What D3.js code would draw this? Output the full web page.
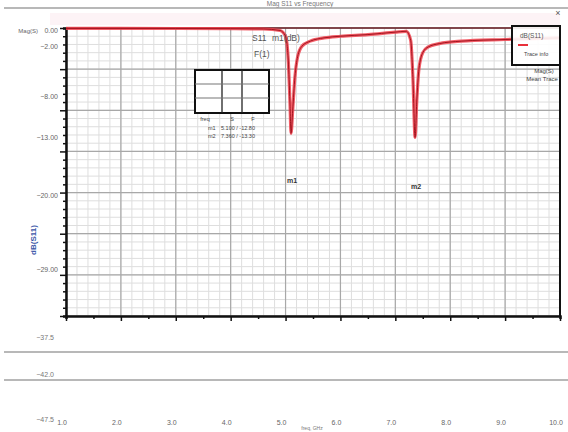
<!DOCTYPE html>
<html>
<head>
<meta charset="utf-8">
<script src="https://cdn.jsdelivr.net/npm/d3@7"></script>
<style>
  html, body { margin: 0; padding: 0; background: #fff; }
  svg { display: block; font-family: "Liberation Sans", Arial, sans-serif; }
</style>
</head>
<body>
<svg id="chart" width="568" height="432"></svg>
<script>
// Return loss sweep, dB(S(1,1)) against frequency in GHz
const freqGHz = [1.0, 2.0, 3.0, 4.0, 4.6, 4.9, 5.0, 5.05, 5.08, 5.10, 5.13, 5.17, 5.22, 5.30, 5.45, 5.70, 6.0, 6.5, 7.0, 7.2, 7.28, 7.32, 7.36, 7.39, 7.43, 7.50, 7.60, 7.80, 8.2, 9.0, 10.0];
const s11dB   = [-0.05, -0.05, -0.06, -0.08, -0.12, -0.3, -1.0, -4.0, -9.0, -12.8, -10.0, -6.0, -3.5, -2.2, -1.6, -1.2, -1.0, -0.8, -0.5, -0.4, -1.5, -6.0, -13.3, -9.0, -5.0, -3.0, -2.3, -1.9, -1.6, -1.4, -1.2];

// Markers placed on the two resonances
const markerNames = ["m1", "m2"];
const markerFreq  = [5.10, 7.36];
const markerDB    = [-12.8, -13.3];

// Axis ticks
const xTicks = [1, 2, 3, 4, 5, 6, 7, 8, 9, 10];
const yMajor = [0, -5, -10, -15, -20, -25, -30, -35];
const yLabelValues = [0, -2, -8, -13, -20, -29];
const lowerLabelValues = [-37.5, -42, -47.5];

// Marker readout table
const tableHead = ["freq", "S", "F"];
const tableRows = [["m1", "5.100 / -12.80"], ["m2", "7.360 / -13.30"]];

const svg = d3.select("#chart");
const x = d3.scaleLinear().domain([1, 10]).range([66, 560]);
const y = d3.scaleLinear().domain([0, -35]).range([28, 316]);

// Window header strip
svg.append("text").attr("x", 300).attr("y", 6).attr("text-anchor", "middle")
  .attr("font-size", 6.5).attr("fill", "#777").text("Mag S11 vs Frequency");
svg.append("line").attr("x1", 4).attr("x2", 568).attr("y1", 8).attr("y2", 8)
  .attr("stroke", "#a0a0a0").attr("stroke-width", 1.5);
svg.append("rect").attr("x", 50).attr("y", 13).attr("width", 510).attr("height", 12)
  .attr("fill", "#fdf3f6");
svg.append("text").attr("x", 558).attr("y", 16).attr("text-anchor", "middle")
  .attr("font-size", 9).attr("fill", "#555").text("×");

// Grid: minor every 0.2 GHz / 1 dB, major every 1 GHz / 5 dB
const grid = svg.append("g");
grid.selectAll(".vminor").data(d3.range(1, 10.001, 0.2)).join("line")
  .attr("x1", d => x(d)).attr("x2", d => x(d)).attr("y1", y(0)).attr("y2", y(-35))
  .attr("stroke", "#dedede").attr("stroke-width", 1);
grid.selectAll(".hminor").data(d3.range(0, -35.001, -1)).join("line")
  .attr("x1", x(1)).attr("x2", x(10)).attr("y1", d => y(d)).attr("y2", d => y(d))
  .attr("stroke", "#dedede").attr("stroke-width", 1);
grid.selectAll(".vmajor").data(xTicks).join("line")
  .attr("x1", d => x(d)).attr("x2", d => x(d)).attr("y1", y(0)).attr("y2", y(-35))
  .attr("stroke", "#a8a8a8").attr("stroke-width", 1.2);
grid.selectAll(".hmajor").data(yMajor).join("line")
  .attr("x1", x(1)).attr("x2", x(10)).attr("y1", d => y(d)).attr("y2", d => y(d))
  .attr("stroke", "#a8a8a8").attr("stroke-width", 1.2);

// Frame
svg.append("line").attr("x1", x(1)).attr("x2", x(10)).attr("y1", y(0)).attr("y2", y(0))
  .attr("stroke", "#6a1a22").attr("stroke-width", 1.5);
svg.append("line").attr("x1", x(10)).attr("x2", x(10)).attr("y1", 25).attr("y2", y(-35) + 1)
  .attr("stroke", "#111").attr("stroke-width", 2);

// Left axis with minor ticks
const yAxis = svg.append("g").attr("transform", `translate(${x(1)},0)`)
  .call(d3.axisLeft(y).tickValues(d3.range(0, -35.001, -1)).tickSize(3).tickFormat(""));
yAxis.selectAll(".tick line").attr("stroke", "#111").attr("stroke-width", 1.5)
  .attr("x2", d => (d % 5 === 0 ? -6 : -3));
yAxis.select(".domain").attr("stroke", "#111").attr("stroke-width", 2.5);

// Bottom axis with minor ticks
const xAxis = svg.append("g").attr("transform", `translate(0,${y(-35)})`)
  .call(d3.axisBottom(x).tickValues(d3.range(1, 10.001, 0.5)).tickSize(3).tickFormat(""));
xAxis.selectAll(".tick line").attr("stroke", "#111").attr("stroke-width", 1.5)
  .attr("y2", d => (Math.abs(d - Math.round(d)) < 1e-6 ? 5 : 3));
xAxis.select(".domain").attr("stroke", "#111").attr("stroke-width", 2.5);

// Y tick labels
svg.selectAll(".ylab").data(yLabelValues).join("text")
  .attr("x", 58).attr("y", d => y(d) + 5).attr("text-anchor", "end")
  .attr("font-size", 7).attr("fill", "#666")
  .text(d => d3.format(".2f")(d));
svg.append("text").attr("x", 38).attr("y", y(0) + 5).attr("text-anchor", "end")
  .attr("font-size", 6).attr("fill", "#666").text("Mag(S)");

// Lower panel separators and labels
svg.selectAll(".sep").data([352, 380]).join("line")
  .attr("x1", 4).attr("x2", 568).attr("y1", d => d).attr("y2", d => d)
  .attr("stroke", "#a0a0a0").attr("stroke-width", 1.5);
svg.selectAll(".lowlab").data(lowerLabelValues).join("text")
  .attr("x", 54).attr("y", d => y(d) + 3).attr("text-anchor", "end")
  .attr("font-size", 7).attr("fill", "#777")
  .text(d => d3.format(".1f")(d));

// X tick labels, set well below the axis
svg.selectAll(".xlab").data(xTicks).join("text")
  .attr("x", d => x(d) - 4).attr("y", 425).attr("text-anchor", "middle")
  .attr("font-size", 7).attr("fill", "#666")
  .text(d => d3.format(".1f")(d));
svg.append("text").attr("x", 312).attr("y", 430).attr("text-anchor", "middle")
  .attr("font-size", 5).attr("fill", "#777").text("freq, GHz");

// Y axis title
svg.append("text").attr("transform", "translate(36,240) rotate(-90)")
  .attr("text-anchor", "middle").attr("font-size", 8).attr("font-weight", "bold")
  .attr("fill", "#3a55a8").text("dB(S11)");

// Trace: bright halo with darker core
const line = d3.line().x((d, i) => x(freqGHz[i])).y(d => y(d)).curve(d3.curveMonotoneX);
svg.append("path").datum(s11dB).attr("d", line)
  .attr("fill", "none").attr("stroke", "#f0424e").attr("stroke-width", 3.2)
  .attr("stroke-opacity", 0.85).attr("stroke-linejoin", "round");
svg.append("path").datum(s11dB).attr("d", line)
  .attr("fill", "none").attr("stroke", "#a3141f").attr("stroke-width", 1)
  .attr("stroke-linejoin", "round");

// Marker labels below each dip
svg.selectAll(".mk").data(markerNames).join("text")
  .attr("x", (d, i) => x(markerFreq[i]) + 1)
  .attr("y", (d, i) => y(markerDB[i]) + 50 + i * 2)
  .attr("text-anchor", "middle").attr("font-size", 7).attr("font-weight", "bold")
  .attr("fill", "#333").text(d => d);

// Marker readout near the first dip
svg.append("text").attr("x", 252).attr("y", 41).attr("font-size", 8.5).attr("fill", "#555").text("S11");
svg.append("text").attr("x", 272).attr("y", 41).attr("font-size", 8.5).attr("fill", "#555").text("m1(dB)");
svg.append("text").attr("x", 254).attr("y", 57).attr("font-size", 8.5).attr("fill", "#555").text("F(1)");

// Readout table
const tb = svg.append("g");
tb.append("rect").attr("x", 195).attr("y", 70).attr("width", 74).attr("height", 43)
  .attr("fill", "#fff").attr("stroke", "#111").attr("stroke-width", 2);
tb.selectAll(".tv").data([222, 242]).join("line")
  .attr("x1", d => d).attr("x2", d => d).attr("y1", 70).attr("y2", 113)
  .attr("stroke", "#222").attr("stroke-width", 1.3);
tb.selectAll(".th").data([84, 98]).join("line")
  .attr("x1", 195).attr("x2", 269).attr("y1", d => d).attr("y2", d => d)
  .attr("stroke", "#777").attr("stroke-width", 1.2);
tb.selectAll(".hd").data(tableHead).join("text")
  .attr("x", (d, i) => [205, 232, 253][i]).attr("y", 121).attr("text-anchor", "middle")
  .attr("font-size", 5.5).attr("fill", "#444").text(d => d);
tb.selectAll(".r1").data(tableRows).join("text")
  .attr("x", 208).attr("y", (d, i) => 130 + i * 8).attr("font-size", 5.5).attr("fill", "#444")
  .text(d => d[0]);
tb.selectAll(".r2").data(tableRows).join("text")
  .attr("x", 221).attr("y", (d, i) => 130 + i * 8).attr("font-size", 5.5).attr("fill", "#444")
  .text(d => d[1]);

// Legend box
const lg = svg.append("g");
lg.append("rect").attr("x", 512).attr("y", 26).attr("width", 48).attr("height", 39)
  .attr("fill", "#fff").attr("fill-opacity", 0.9).attr("stroke", "#111").attr("stroke-width", 2);
lg.append("text").attr("x", 520).attr("y", 38).attr("font-size", 6.5).attr("fill", "#555").text("dB(S11)");
lg.append("line").attr("x1", 518).attr("x2", 528).attr("y1", 45).attr("y2", 45)
  .attr("stroke", "#e8303a").attr("stroke-width", 2);
lg.append("text").attr("x", 524).attr("y", 56).attr("font-size", 5.5).attr("fill", "#444").text("Trace info");
svg.append("text").attr("x", 544).attr("y", 73).attr("text-anchor", "middle")
  .attr("font-size", 6).attr("fill", "#444").text("Mag(S)");
svg.append("text").attr("x", 542).attr("y", 81).attr("text-anchor", "middle")
  .attr("font-size", 6).attr("fill", "#444").text("Mean Trace");
</script>
</body>
</html>
